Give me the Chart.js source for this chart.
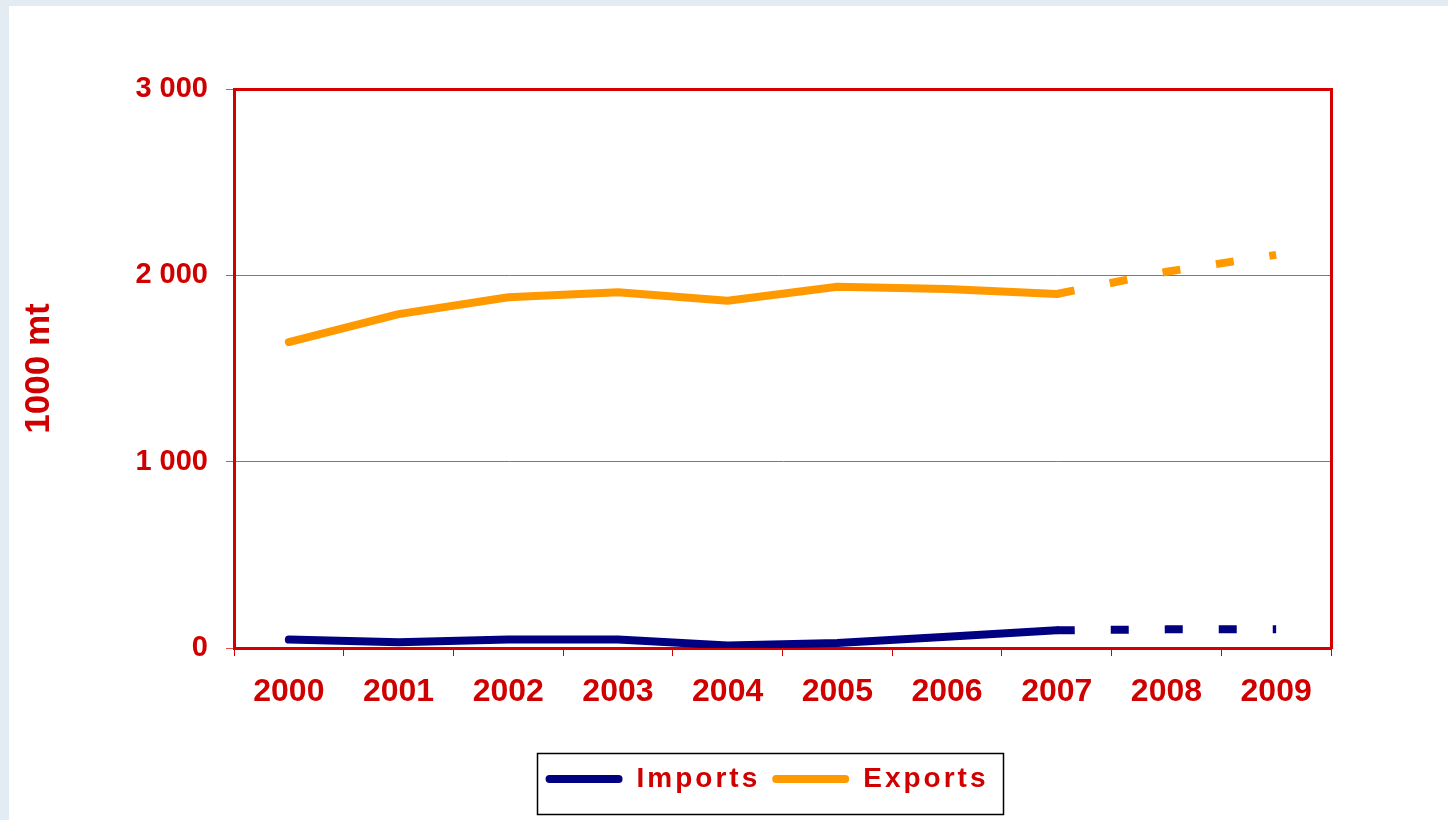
<!DOCTYPE html>
<html>
<head>
<meta charset="utf-8">
<script src="https://cdn.jsdelivr.net/npm/chart.js@4/dist/chart.umd.min.js"></script>
<style>
  html, body { margin: 0; padding: 0; background: #e4ecf3; width: 1448px; height: 820px; overflow: hidden; }
  #panel { position: absolute; left: 9px; top: 6px; width: 1439px; height: 814px; background: #ffffff; }
  canvas { display: block; }
</style>
</head>
<body>
<div id="panel"><canvas id="c" width="1439" height="814"></canvas></div>
<script>
// ---- data ----
const years = ['2000', '2001', '2002', '2003', '2004', '2005', '2006', '2007', '2008', '2009'];
const importsValues = [45, 31, 45, 45, 14, 27, 61, 95, 100, 100];
const exportsValues = [1642, 1792, 1882, 1909, 1864, 1939, 1927, 1900, 2019, 2110];
const seriesNames = ['Imports', 'Exports'];
const yTickLabels = ['0', '1 000', '2 000', '3 000'];
const yAxisTitle = '1000 mt';
const forecastFromIndex = 7; // segments after 2007 are dashed (forecast)

// ---- styles ----
const RED = '#d00000';
const AXIS_RED = '#d40000';
const GRID_RED = '#e05050';
const NAVY = '#000080';
const ORANGE = '#ff9900';
const FONT = "'Liberation Sans', Arial, Helvetica, sans-serif";
const LEGEND_CENTER_X = 758;

const dashedSegment = {
  borderDash: ctx => ctx.p0DataIndex >= forecastFromIndex ? [18, 36] : undefined,
  borderCapStyle: ctx => ctx.p0DataIndex >= forecastFromIndex ? 'butt' : undefined
};

const legendTweak = {
  id: 'legendTweak',
  afterInit(chart) {
    const lg = chart.legend;
    if (!lg) return;
    const origFit = lg.fit;
    const origDraw = lg.draw;
    lg.fit = function () {
      const c = this.ctx;
      c.save();
      c.letterSpacing = '3px';
      origFit.call(this);
      c.restore();
    };
    lg.draw = function () {
      const c = this.ctx;
      const pad = this.options.labels.padding;
      const dx = LEGEND_CENTER_X - (this.left + this.right) / 2;
      c.save();
      c.letterSpacing = '3px';
      c.translate(dx, 0);
      origDraw.call(this);
      c.restore();
      // border around legend
      const groupW = this.lineWidths[0] - pad;
      const fontSize = this.options.labels.font.size;
      const textCY = this.top + pad + fontSize / 2;
      c.save();
      c.strokeStyle = '#000000';
      c.lineWidth = 1.5;
      c.strokeRect(Math.round(LEGEND_CENTER_X - groupW / 2 - 9) + 0.5, Math.round(textCY - 26) + 0.5,
                   Math.round(groupW + 23), 61);
      c.restore();
    };
  }
};

new Chart(document.getElementById('c'), {
  type: 'line',
  data: {
    labels: years,
    datasets: [
      {
        label: seriesNames[0],
        data: importsValues,
        borderColor: NAVY,
        backgroundColor: NAVY,
        borderWidth: 8,
        pointRadius: 0,
        tension: 0,
        borderCapStyle: 'round',
        borderJoinStyle: 'round',
        segment: dashedSegment
      },
      {
        label: seriesNames[1],
        data: exportsValues,
        borderColor: ORANGE,
        backgroundColor: ORANGE,
        borderWidth: 8,
        pointRadius: 0,
        tension: 0,
        borderCapStyle: 'round',
        borderJoinStyle: 'round',
        segment: dashedSegment
      }
    ]
  },
  options: {
    responsive: false,
    animation: false,
    layout: { padding: { left: 0, top: 83, right: 117, bottom: 17 } },
    plugins: {
      tooltip: { enabled: false },
      title: { display: false },
      legend: {
        display: true,
        position: 'bottom',
        labels: {
          boxWidth: 77,
          boxHeight: 8,
          padding: 12,
          color: RED,
          font: { family: FONT, size: 28, weight: 'bold' },
          generateLabels(chart) {
            return chart.data.datasets.map((ds, i) => ({
              text: ds.label,
              fillStyle: ds.borderColor,
              strokeStyle: ds.borderColor,
              lineWidth: 0,
              borderRadius: 4,
              fontColor: RED,
              hidden: false,
              datasetIndex: i
            }));
          }
        }
      }
    },
    scales: {
      x: {
        type: 'category',
        offset: true,
        grid: {
          display: true,
          offset: true,
          drawOnChartArea: false,
          drawTicks: true,
          tickLength: 8,
          tickColor: AXIS_RED,
          tickWidth: 1
        },
        border: { display: true, color: AXIS_RED, width: 3 },
        ticks: {
          color: RED,
          padding: 17,
          maxRotation: 0,
          autoSkip: false,
          font: { family: FONT, size: 32, weight: 'bold' }
        },
        afterFit(scale) { scale.height = 105; }
      },
      y: {
        type: 'linear',
        position: 'left',
        min: 0,
        max: 3000,
        ticks: {
          stepSize: 1000,
          color: RED,
          padding: 18,
          font: { family: FONT, size: 29, weight: 'bold' },
          callback: (value, index) => yTickLabels[index]
        },
        grid: {
          display: true,
          drawOnChartArea: true,
          drawTicks: true,
          tickLength: 8,
          tickColor: GRID_RED,
          tickWidth: 1,
          color: (c) => (c.index === 3 ? AXIS_RED : GRID_RED),
          lineWidth: (c) => (c.index === 3 ? 3 : 1)
        },
        border: { display: true, color: AXIS_RED, width: 3 },
        title: {
          display: true,
          text: yAxisTitle,
          color: RED,
          padding: { top: 9, bottom: 0 },
          font: { family: FONT, size: 35, weight: 'bold' }
        },
        afterFit(scale) { scale.width = 225; }
      },
      y2: {
        type: 'linear',
        position: 'right',
        display: true,
        min: 0,
        max: 3000,
        ticks: { display: false },
        grid: { display: false, drawTicks: false },
        border: { display: true, color: AXIS_RED, width: 3 }
      }
    }
  },
  plugins: [legendTweak]
});
</script>
</body>
</html>
